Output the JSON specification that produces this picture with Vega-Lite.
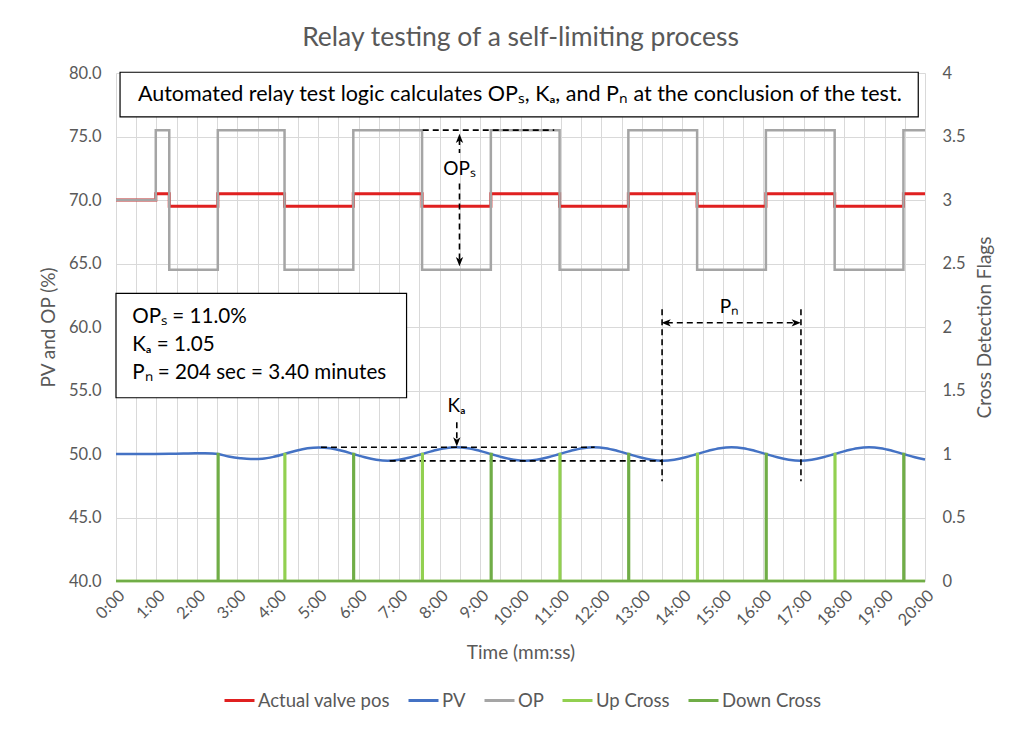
{
  "$schema": "https://vega.github.io/schema/vega-lite/v6.json",
  "description": "Relay testing of a self-limiting process",
  "autosize": {"type": "none"},
  "width": 809,
  "height": 508,
  "padding": {"left": 116, "top": 73, "right": 99, "bottom": 150},
  "background": "white",
  "config": {
    "font": "Lato",
    "view": {"stroke": null},
    "axis": {
      "labelColor": "#595959",
      "titleColor": "#595959",
      "labelFontSize": 16.5,
      "titleFontSize": 19,
      "titleFontWeight": "normal",
      "gridColor": "#D9D9D9",
      "domain": false,
      "ticks": false
    },
    "legend": {
      "direction": "horizontal",
      "labelFontSize": 18.5,
      "labelColor": "#595959",
      "symbolType": "stroke",
      "symbolSize": 900,
      "symbolStrokeWidth": 3,
      "columnPadding": 12,
      "labelOffset": 2
    }
  },
  "title": {
    "text": "Relay testing of a self-limiting process",
    "fontSize": 26.5,
    "fontWeight": "normal",
    "color": "#595959",
    "offset": 14
  },
  "datasets": {
    "ts": [
      {"s": "Actual valve pos", "t": 0, "v": 70},
      {"s": "Actual valve pos", "t": 59, "v": 70.5},
      {"s": "Actual valve pos", "t": 79, "v": 69.5},
      {"s": "Actual valve pos", "t": 151, "v": 70.5},
      {"s": "Actual valve pos", "t": 250, "v": 69.5},
      {"s": "Actual valve pos", "t": 352, "v": 70.5},
      {"s": "Actual valve pos", "t": 454, "v": 69.5},
      {"s": "Actual valve pos", "t": 556, "v": 70.5},
      {"s": "Actual valve pos", "t": 658, "v": 69.5},
      {"s": "Actual valve pos", "t": 760, "v": 70.5},
      {"s": "Actual valve pos", "t": 862, "v": 69.5},
      {"s": "Actual valve pos", "t": 964, "v": 70.5},
      {"s": "Actual valve pos", "t": 1066, "v": 69.5},
      {"s": "Actual valve pos", "t": 1168, "v": 70.5},
      {"s": "Actual valve pos", "t": 1200, "v": 70.5},

      {"s": "OP", "t": 0, "v": 70},
      {"s": "OP", "t": 59, "v": 75.5},
      {"s": "OP", "t": 79, "v": 64.5},
      {"s": "OP", "t": 151, "v": 75.5},
      {"s": "OP", "t": 250, "v": 64.5},
      {"s": "OP", "t": 352, "v": 75.5},
      {"s": "OP", "t": 454, "v": 64.5},
      {"s": "OP", "t": 556, "v": 75.5},
      {"s": "OP", "t": 658, "v": 64.5},
      {"s": "OP", "t": 760, "v": 75.5},
      {"s": "OP", "t": 862, "v": 64.5},
      {"s": "OP", "t": 964, "v": 75.5},
      {"s": "OP", "t": 1066, "v": 64.5},
      {"s": "OP", "t": 1168, "v": 75.5},
      {"s": "OP", "t": 1200, "v": 75.5},

      {"s": "PV", "t": 0, "v": 50.0},
      {"s": "PV", "t": 40, "v": 50.0},
      {"s": "PV", "t": 80, "v": 50.01},
      {"s": "PV", "t": 100, "v": 50.03},
      {"s": "PV", "t": 118, "v": 50.06},
      {"s": "PV", "t": 132, "v": 50.06},
      {"s": "PV", "t": 143, "v": 50.04},
      {"s": "PV", "t": 151, "v": 50.0},
      {"s": "PV", "t": 167, "v": 49.81},
      {"s": "PV", "t": 184, "v": 49.67},
      {"s": "PV", "t": 200, "v": 49.6},
      {"s": "PV", "t": 217, "v": 49.63},
      {"s": "PV", "t": 234, "v": 49.78},
      {"s": "PV", "t": 250, "v": 50.0},
      {"s": "PV", "t": 267, "v": 50.26},
      {"s": "PV", "t": 284, "v": 50.45},
      {"s": "PV", "t": 301, "v": 50.52},
      {"s": "PV", "t": 318, "v": 50.45},
      {"s": "PV", "t": 335, "v": 50.26},
      {"s": "PV", "t": 352, "v": 50.0},
      {"s": "PV", "t": 369, "v": 49.74},
      {"s": "PV", "t": 386, "v": 49.55},
      {"s": "PV", "t": 403, "v": 49.47},
      {"s": "PV", "t": 420, "v": 49.55},
      {"s": "PV", "t": 437, "v": 49.74},
      {"s": "PV", "t": 454, "v": 50.0},
      {"s": "PV", "t": 471, "v": 50.26},
      {"s": "PV", "t": 488, "v": 50.46},
      {"s": "PV", "t": 505, "v": 50.53},
      {"s": "PV", "t": 522, "v": 50.46},
      {"s": "PV", "t": 539, "v": 50.26},
      {"s": "PV", "t": 556, "v": 50.0},
      {"s": "PV", "t": 573, "v": 49.74},
      {"s": "PV", "t": 590, "v": 49.55},
      {"s": "PV", "t": 607, "v": 49.47},
      {"s": "PV", "t": 624, "v": 49.55},
      {"s": "PV", "t": 641, "v": 49.74},
      {"s": "PV", "t": 658, "v": 50.0},
      {"s": "PV", "t": 675, "v": 50.26},
      {"s": "PV", "t": 692, "v": 50.46},
      {"s": "PV", "t": 709, "v": 50.53},
      {"s": "PV", "t": 726, "v": 50.46},
      {"s": "PV", "t": 743, "v": 50.26},
      {"s": "PV", "t": 760, "v": 50.0},
      {"s": "PV", "t": 777, "v": 49.74},
      {"s": "PV", "t": 794, "v": 49.55},
      {"s": "PV", "t": 811, "v": 49.47},
      {"s": "PV", "t": 828, "v": 49.55},
      {"s": "PV", "t": 845, "v": 49.74},
      {"s": "PV", "t": 862, "v": 50.0},
      {"s": "PV", "t": 879, "v": 50.26},
      {"s": "PV", "t": 896, "v": 50.46},
      {"s": "PV", "t": 913, "v": 50.53},
      {"s": "PV", "t": 930, "v": 50.46},
      {"s": "PV", "t": 947, "v": 50.26},
      {"s": "PV", "t": 964, "v": 50.0},
      {"s": "PV", "t": 981, "v": 49.74},
      {"s": "PV", "t": 998, "v": 49.55},
      {"s": "PV", "t": 1015, "v": 49.47},
      {"s": "PV", "t": 1032, "v": 49.55},
      {"s": "PV", "t": 1049, "v": 49.74},
      {"s": "PV", "t": 1066, "v": 50.0},
      {"s": "PV", "t": 1083, "v": 50.26},
      {"s": "PV", "t": 1100, "v": 50.46},
      {"s": "PV", "t": 1117, "v": 50.53},
      {"s": "PV", "t": 1134, "v": 50.46},
      {"s": "PV", "t": 1151, "v": 50.26},
      {"s": "PV", "t": 1168, "v": 50.0},
      {"s": "PV", "t": 1185, "v": 49.74},
      {"s": "PV", "t": 1200, "v": 49.57}
    ],
    "flags": [
      {"s": "Up Cross", "t": 0, "v": 0},
      {"s": "Up Cross", "t": 250, "v": 1},
      {"s": "Up Cross", "t": 251, "v": 0},
      {"s": "Up Cross", "t": 454, "v": 1},
      {"s": "Up Cross", "t": 455, "v": 0},
      {"s": "Up Cross", "t": 658, "v": 1},
      {"s": "Up Cross", "t": 659, "v": 0},
      {"s": "Up Cross", "t": 862, "v": 1},
      {"s": "Up Cross", "t": 863, "v": 0},
      {"s": "Up Cross", "t": 1066, "v": 1},
      {"s": "Up Cross", "t": 1067, "v": 0},
      {"s": "Up Cross", "t": 1200, "v": 0},
      {"s": "Down Cross", "t": 0, "v": 0},
      {"s": "Down Cross", "t": 151, "v": 1},
      {"s": "Down Cross", "t": 152, "v": 0},
      {"s": "Down Cross", "t": 352, "v": 1},
      {"s": "Down Cross", "t": 353, "v": 0},
      {"s": "Down Cross", "t": 556, "v": 1},
      {"s": "Down Cross", "t": 557, "v": 0},
      {"s": "Down Cross", "t": 760, "v": 1},
      {"s": "Down Cross", "t": 761, "v": 0},
      {"s": "Down Cross", "t": 964, "v": 1},
      {"s": "Down Cross", "t": 965, "v": 0},
      {"s": "Down Cross", "t": 1168, "v": 1},
      {"s": "Down Cross", "t": 1169, "v": 0},
      {"s": "Down Cross", "t": 1200, "v": 0}
    ],
    "boxes": [
      {"t": 6, "t2": 1190, "v": 80.06, "v2": 76.54},
      {"t": 0, "t2": 431, "v": 62.65, "v2": 54.43}
    ],
    "dashes": [
      {"t": 455, "t2": 650, "v": 75.5, "v2": 75.5},
      {"t": 509.5, "t2": 509.5, "v": 74.8, "v2": 73.7},
      {"t": 509.5, "t2": 509.5, "v": 71.3, "v2": 65.2},
      {"t": 304, "t2": 710, "v": 50.53, "v2": 50.53},
      {"t": 406, "t2": 810, "v": 49.46, "v2": 49.46},
      {"t": 505.5, "t2": 505.5, "v": 52.5, "v2": 51.0},
      {"t": 810, "t2": 810, "v": 61.4, "v2": 47.86},
      {"t": 1016, "t2": 1016, "v": 61.4, "v2": 47.86},
      {"t": 817, "t2": 1008, "v": 60.33, "v2": 60.33}
    ],
    "arrows": [
      {"t": 509.5, "v": 74.8, "angle": 0},
      {"t": 509.5, "v": 65.2, "angle": 180},
      {"t": 505.5, "v": 51.0, "angle": 180},
      {"t": 817, "v": 60.33, "angle": 270},
      {"t": 1008, "v": 60.33, "angle": 90}
    ],
    "labels": [
      {"t": 509.5, "v": 72.45, "label": "OPₛ"},
      {"t": 505, "v": 53.8, "label": "Kₐ"},
      {"t": 910, "v": 61.55, "label": "Pₙ"}
    ],
    "headline": [
      {"t": 599, "v": 78.3, "label": "Automated relay test logic calculates OPₛ, Kₐ, and Pₙ at the conclusion of the test."}
    ],
    "results": [
      {"t": 24, "v": 60.81, "label": "OPₛ = 11.0%"},
      {"t": 24, "v": 58.58, "label": "Kₐ = 1.05"},
      {"t": 24, "v": 56.35, "label": "Pₙ = 204 sec = 3.40 minutes"}
    ]
  },
  "encoding": {
    "x": {
      "field": "t",
      "type": "quantitative",
      "scale": {"domain": [0, 1200], "nice": false, "zero": false},
      "axis": {
        "title": "Time (mm:ss)",
        "values": [0, 30, 60, 90, 120, 150, 180, 210, 240, 270, 300, 330, 360, 390, 420, 450, 480, 510, 540, 570, 600, 630, 660, 690, 720, 750, 780, 810, 840, 870, 900, 930, 960, 990, 1020, 1050, 1080, 1110, 1140, 1170, 1200],
        "labelExpr": "datum.value % 60 == 0 ? floor(datum.value / 60) + ':00' : ''",
        "labelAngle": -45,
        "labelOverlap": false,
        "labelFlush": false,
        "labelPadding": 6,
        "titlePadding": 15,
        "grid": true
      }
    }
  },
  "layer": [
    {
      "encoding": {
        "y": {
          "field": "v",
          "type": "quantitative",
          "scale": {"domain": [40, 80], "nice": false, "zero": false},
          "axis": {
            "title": "PV and OP (%)",
            "values": [40, 45, 50, 55, 60, 65, 70, 75, 80],
            "format": ".1f",
            "labelPadding": 15,
            "titlePadding": 10,
            "grid": true
          }
        }
      },
      "layer": [
        {
          "data": {"name": "ts"},
          "transform": [{"filter": "datum.s == 'Actual valve pos'"}],
          "mark": {"type": "line", "interpolate": "step-after", "strokeWidth": 3},
          "encoding": {
            "color": {
              "field": "s",
              "type": "nominal",
              "scale": {"domain": ["Actual valve pos", "PV", "OP", "Up Cross", "Down Cross"], "range": ["#E02020", "#4472C4", "#A5A5A5", "#92D050", "#70AD47"]},
              "legend": {"title": null, "orient": "none", "legendX": 107, "legendY": 611, "direction": "horizontal"}
            }
          }
        },
        {
          "data": {"name": "ts"},
          "transform": [{"filter": "datum.s == 'PV'"}],
          "mark": {"type": "line", "interpolate": "monotone", "strokeWidth": 2.5},
          "encoding": {
            "color": {"field": "s", "type": "nominal", "legend": {"title": null, "orient": "none", "legendX": 107, "legendY": 611, "direction": "horizontal"}}
          }
        },
        {
          "data": {"name": "ts"},
          "transform": [{"filter": "datum.s == 'OP'"}],
          "mark": {"type": "line", "interpolate": "step-after", "strokeWidth": 2.5},
          "encoding": {
            "color": {"field": "s", "type": "nominal", "legend": {"title": null, "orient": "none", "legendX": 107, "legendY": 611, "direction": "horizontal"}}
          }
        },
        {
          "data": {"name": "dashes"},
          "mark": {"type": "rule", "color": "black", "strokeWidth": 1.6, "strokeDash": [6, 4]},
          "encoding": {
            "x2": {"field": "t2"},
            "y2": {"field": "v2"}
          }
        },
        {
          "data": {"name": "arrows"},
          "mark": {"type": "point", "shape": "M0,-1L0.7,0.75L0,0.3L-0.7,0.75Z", "filled": true, "color": "black", "size": 110, "opacity": 1},
          "encoding": {
            "angle": {"field": "angle", "type": "quantitative", "scale": null}
          }
        },
        {
          "data": {"name": "boxes"},
          "mark": {"type": "rect", "fill": "white", "stroke": "black", "strokeWidth": 1.2},
          "encoding": {
            "x2": {"field": "t2"},
            "y2": {"field": "v2"}
          }
        },
        {
          "data": {"name": "headline"},
          "mark": {"type": "text", "fontSize": 21.5, "align": "center", "baseline": "middle", "color": "black"},
          "encoding": {"text": {"field": "label"}}
        },
        {
          "data": {"name": "results"},
          "mark": {"type": "text", "fontSize": 20.6, "align": "left", "baseline": "middle", "color": "black"},
          "encoding": {"text": {"field": "label"}}
        },
        {
          "data": {"name": "labels"},
          "mark": {"type": "text", "fontSize": 19, "align": "center", "baseline": "middle", "color": "black"},
          "encoding": {"text": {"field": "label"}}
        }
      ]
    },
    {
      "encoding": {
        "y": {
          "field": "v",
          "type": "quantitative",
          "scale": {"domain": [0, 4], "nice": false, "zero": false},
          "axis": {
            "orient": "right",
            "title": "Cross Detection Flags",
            "titleAngle": 270,
            "titleBaseline": "top",
            "values": [0, 0.5, 1, 1.5, 2, 2.5, 3, 3.5, 4],
            "format": "~g",
            "labelPadding": 17,
            "titlePadding": 10,
            "grid": false
          }
        }
      },
      "layer": [
        {
          "data": {"name": "flags"},
          "transform": [{"filter": "datum.s == 'Up Cross'"}],
          "mark": {"type": "line", "interpolate": "step-after", "strokeWidth": 2.5},
          "encoding": {
            "color": {"field": "s", "type": "nominal", "legend": {"title": null, "orient": "none", "legendX": 107, "legendY": 611, "direction": "horizontal"}}
          }
        },
        {
          "data": {"name": "flags"},
          "transform": [{"filter": "datum.s == 'Down Cross'"}],
          "mark": {"type": "line", "interpolate": "step-after", "strokeWidth": 2.5},
          "encoding": {
            "color": {"field": "s", "type": "nominal", "legend": {"title": null, "orient": "none", "legendX": 107, "legendY": 611, "direction": "horizontal"}}
          }
        }
      ]
    }
  ],
  "resolve": {"scale": {"y": "independent"}}
}
